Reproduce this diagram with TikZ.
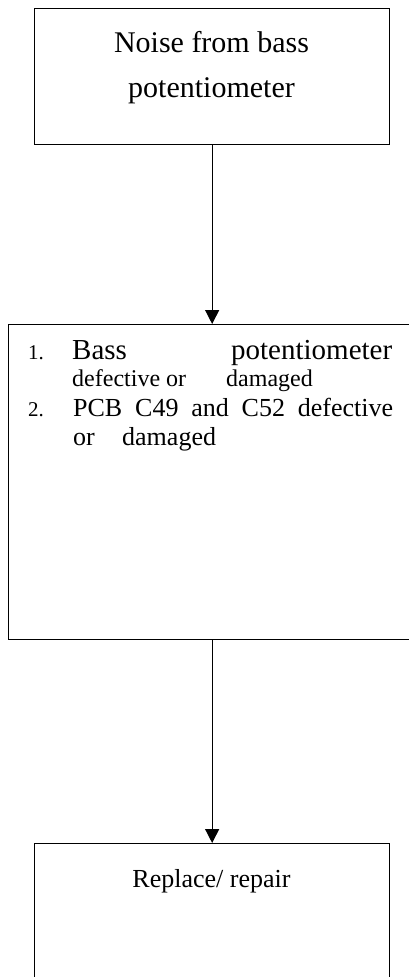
\documentclass[tikz,border=0pt]{standalone}
\usepackage{fontspec}
\setmainfont{Liberation Serif}
\usetikzlibrary{arrows.meta}
\begin{document}
\begin{tikzpicture}[x=1pt,y=-1pt,
  boxline/.style={draw=black, line width=1.3pt, inner sep=0pt, anchor=north west},
  flow/.style={draw=black, line width=1.3pt, -{Triangle[length=14pt,width=14pt]}},
  txt/.style={inner sep=0pt, anchor=base west},
  ctxt/.style={inner sep=0pt, anchor=base},
  big/.style={font=\fontsize{30}{36}\selectfont},
  lone/.style={font=\fontsize{29}{34}\selectfont},
  ltwo/.style={font=\fontsize{24}{29}\selectfont},
  lthree/.style={font=\fontsize{26}{31}\selectfont},
  num/.style={font=\fontsize{21}{25}\selectfont}]
\useasboundingbox (0,0) rectangle (409,977);
% boxes
\node[boxline, minimum width=355pt, minimum height=136pt] (top) at (34,8) {};
\node[boxline, minimum width=422pt, minimum height=315pt] (mid) at (8,324) {};
\node[boxline, minimum width=355pt, minimum height=160pt] (bot) at (34,843) {};
% connectors
\draw[flow] (top.south) -- (top.south |- mid.north);
\draw[flow] (top.south |- mid.south) -- (bot.north);
% top text
\node[ctxt, big] (ta) at (211.5,52) {Noise from bass};
\node[ctxt, big] (tb) at (211.5,97) {potentiometer};
% middle text
\node[txt, num] (n1) at (28,359) {1.};
\node[txt, lone] (l1) at (72,359) {\makebox[320pt][s]{Bass\hfill potentiometer}};
\node[txt, ltwo] (l2a) at (72,386) {defective or};
\node[txt, ltwo] (l2b) at (226,386) {damaged};
\node[txt, num] (n2) at (28,416) {2.};
\node[txt, lthree] (l3) at (73,416) {\makebox[320pt][s]{PCB C49 and C52 defective}};
\node[txt, lthree] (l4a) at (73,445) {or};
\node[txt, lthree] (l4b) at (122,445) {damaged};
% bottom text
\node[ctxt, lthree] (r) at (211.5,887) {Replace/ repair};
\end{tikzpicture}
\end{document}
